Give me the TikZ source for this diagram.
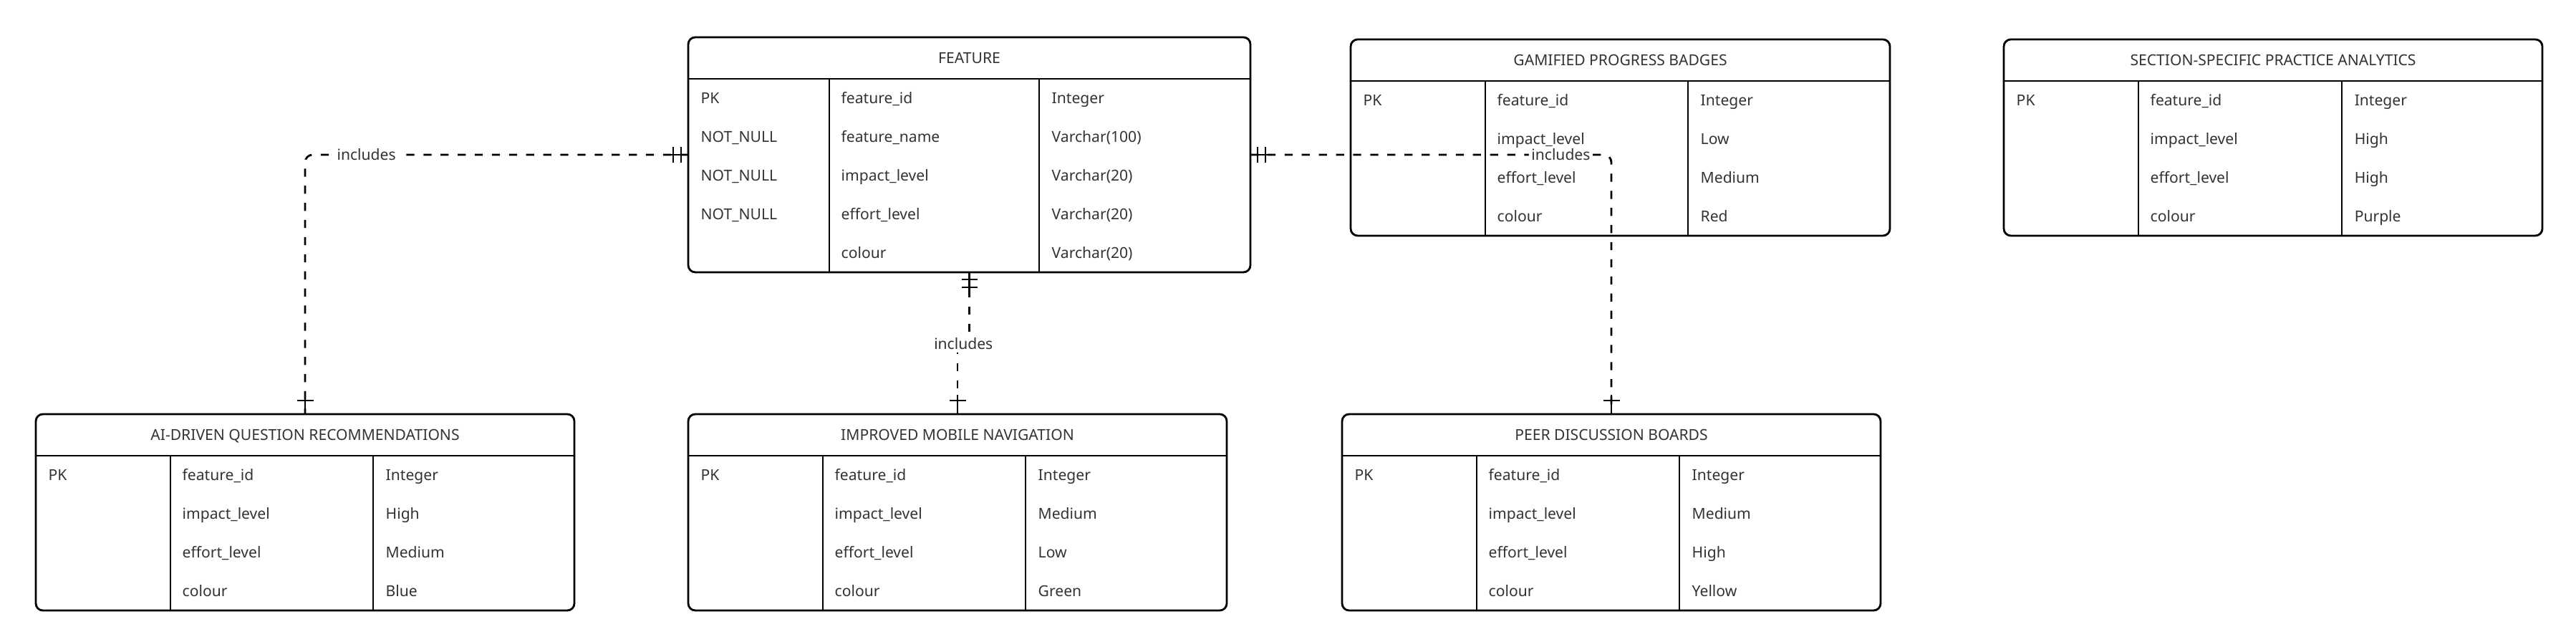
\documentclass[tikz,border=0pt]{standalone}
\usepackage{fontspec}
\setmainfont{Noto Sans}
\usetikzlibrary{calc}

\tikzset{
  entity/.style={draw, line width=0.8pt, rounded corners=2.8pt, anchor=north west, inner sep=0pt, outer sep=0pt},
  grid line/.style={line width=0.8pt},
  cell/.style={anchor=base west, yshift=-0.075cm, inner sep=0pt, text=black!80, font=\fontsize{6}{7}\selectfont},
  headtext/.style={anchor=base, yshift=-0.075cm, inner sep=0pt, text=black!80, font=\fontsize{6}{7}\selectfont},
  rel/.style={line width=0.8pt, dash pattern=on 3.2pt off 3.6pt},
  rellabel/.style={fill=white, inner sep=1pt, text=black!80, font=\fontsize{6}{7}\selectfont},
  pics/exactlyone/.style={code={
    \draw[line width=0.8pt] (0,0) -- (0.27,0) (0.10,-0.11) -- (0.10,0.11) (0.21,-0.11) -- (0.21,0.11);
  }},
  pics/onlyone/.style={code={
    \draw[line width=0.8pt] (0,0) -- (0.27,0) (0.19,-0.115) -- (0.19,0.115);
  }}
}

\newcommand\erentity[8]{%
  \node[entity, minimum width=#3cm, minimum height=0.58cm+#6*0.54cm] (#1) at (#2) {};
  \draw[grid line] ($(#1.north west)+(0,-0.58)$) -- ($(#1.north east)+(0,-0.58)$);
  \draw[grid line] ($(#1.north west)+(#4,-0.58)$) -- ($(#1.south west)+(#4,0)$);
  \draw[grid line] ($(#1.north west)+(#5,-0.58)$) -- ($(#1.south west)+(#5,0)$);
  \node[headtext] (#1-title) at ($(#1.north)+(0,-0.29)$) {#7};
  \foreach \ky/\fd/\ty [count=\i] in {#8} {
    \node[cell] (#1-key\i) at ($(#1.north west)+(0.17,-0.31-0.54*\i)$) {\ky};
    \node[cell] (#1-field\i) at ($(#1.north west)+(#4+0.16,-0.31-0.54*\i)$) {\fd};
    \node[cell] (#1-type\i) at ($(#1.north west)+(#5+0.17,-0.31-0.54*\i)$) {\ty};
  }%
}

\begin{document}
\begin{tikzpicture}
	\useasboundingbox (0,0) rectangle (35.97,-8.96);

	\erentity{feature}{9.61,-0.52}{7.85}{1.97}{4.90}{5}{FEATURE}{PK/feature\_id/Integer, NOT\_NULL/feature\_name/Varchar(100), NOT\_NULL/impact\_level/Varchar(20), NOT\_NULL/effort\_level/Varchar(20), {}/colour/Varchar(20)}
	\erentity{badges}{18.86,-0.55}{7.53}{1.88}{4.71}{4}{GAMIFIED PROGRESS BADGES}{PK/feature\_id/Integer, {}/impact\_level/Low, {}/effort\_level/Medium, {}/colour/Red}
	\erentity{analytics}{27.98,-0.55}{7.52}{1.88}{4.72}{4}{SECTION-SPECIFIC PRACTICE ANALYTICS}{PK/feature\_id/Integer, {}/impact\_level/High, {}/effort\_level/High, {}/colour/Purple}
	\erentity{airecs}{0.50,-5.78}{7.52}{1.88}{4.71}{4}{AI-DRIVEN QUESTION RECOMMENDATIONS}{PK/feature\_id/Integer, {}/impact\_level/High, {}/effort\_level/Medium, {}/colour/Blue}
	\erentity{mobilenav}{9.61,-5.78}{7.52}{1.88}{4.71}{4}{IMPROVED MOBILE NAVIGATION}{PK/feature\_id/Integer, {}/impact\_level/Medium, {}/effort\_level/Low, {}/colour/Green}
	\erentity{peerboards}{18.74,-5.78}{7.52}{1.88}{4.71}{4}{PEER DISCUSSION BOARDS}{PK/feature\_id/Integer, {}/impact\_level/Medium, {}/effort\_level/High, {}/colour/Yellow}

	\draw[rel, rounded corners=3pt] (feature.west) -| node[rellabel, pos=0.42] (inc1) {includes} (airecs.north);
	\draw[rel] (feature.south) -- ++(0,-1.0) -| node[rellabel, pos=0.25] (inc2) {includes} (mobilenav.north);
	\draw[rel, rounded corners=3pt] (feature.east) -| node[rellabel, pos=0.43] (inc3) {includes} (peerboards.north);

	\pic[rotate=180] at (feature.west) {exactlyone};
	\pic at (feature.east) {exactlyone};
	\pic[rotate=-90] at (feature.south) {exactlyone};
	\pic[rotate=90] at (airecs.north) {onlyone};
	\pic[rotate=90] at (mobilenav.north) {onlyone};
	\pic[rotate=90] at (peerboards.north) {onlyone};
\end{tikzpicture}
\end{document}
